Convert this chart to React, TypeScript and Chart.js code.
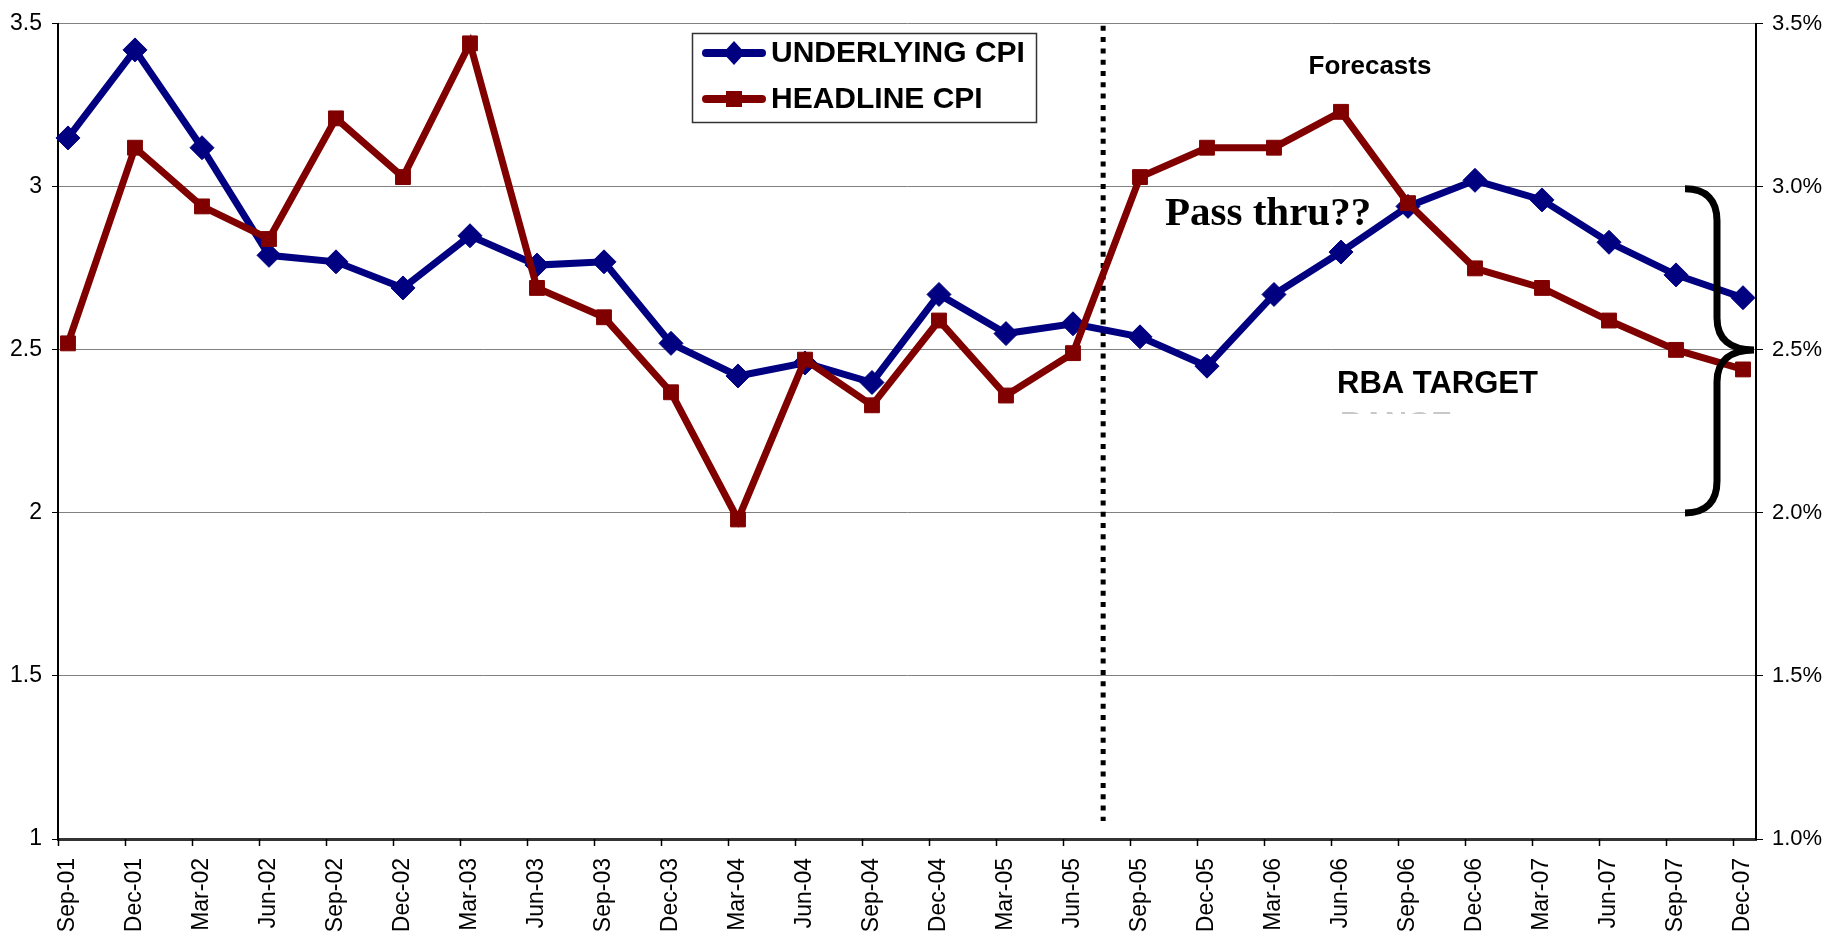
import React, { useEffect, useRef } from "react";
import { Chart, registerables } from "chart.js";

Chart.register(...registerables);

const categories = [
  "Sep-01", "Dec-01", "Mar-02", "Jun-02", "Sep-02", "Dec-02", "Mar-03", "Jun-03", "Sep-03",
  "Dec-03", "Mar-04", "Jun-04", "Sep-04", "Dec-04", "Mar-05", "Jun-05", "Sep-05", "Dec-05",
  "Mar-06", "Jun-06", "Sep-06", "Dec-06", "Mar-07", "Jun-07", "Sep-07", "Dec-07",
];

const underlyingCPI = [
  3.15, 3.42, 3.12, 2.79, 2.77, 2.69, 2.85, 2.76, 2.77, 2.52, 2.42, 2.46, 2.40,
  2.67, 2.55, 2.58, 2.54, 2.45, 2.67, 2.80, 2.94, 3.02, 2.96, 2.83, 2.73, 2.66,
];

const headlineCPI = [
  2.52, 3.12, 2.94, 2.84, 3.21, 3.03, 3.44, 2.69, 2.60, 2.37, 1.98, 2.47, 2.33,
  2.59, 2.36, 2.49, 3.03, 3.12, 3.12, 3.23, 2.95, 2.75, 2.69, 2.59, 2.50, 2.44,
];

const seriesNames = ["UNDERLYING CPI", "HEADLINE CPI"];
const yMin = 1;
const yMax = 3.5;
const yStep = 0.5;
const forecastBoundary = 15.45; // between Jun-05 and Sep-05
const targetRange = [2, 2.5, 3];
const annotationTexts = { forecasts: "Forecasts", passThru: "Pass thru??", target: "RBA TARGET", targetSub: "RANGE" };

const SANS = "'Liberation Sans', Arial, sans-serif";
const SERIF = "'Liberation Serif', 'Times New Roman', serif";

export default function App() {
  const canvasRef = useRef<HTMLCanvasElement | null>(null);

  useEffect(() => {
    const canvas = canvasRef.current;
    if (!canvas) return;

    const annotations = {
      id: "annotations",
      beforeDatasetsDraw(chart: any) {
        const { ctx, chartArea, scales } = chart;
        const x = scales.x.getPixelForValue(forecastBoundary);
        ctx.save();
        ctx.strokeStyle = "#000";
        ctx.lineWidth = 5;
        ctx.setLineDash([5, 6.3]);
        ctx.beginPath();
        ctx.moveTo(x, chartArea.top + 2);
        ctx.lineTo(x, chartArea.bottom - 18);
        ctx.stroke();
        ctx.restore();
      },
      afterDatasetsDraw(chart: any) {
        const { ctx, chartArea, scales } = chart;
        const xs = scales.x;
        const ys = scales.y;
        ctx.save();

        // x-axis tick marks (between-category style)
        const tickShift = 10 / ((chartArea.right - chartArea.left) / (xs.max - xs.min));
        ctx.strokeStyle = "#000";
        ctx.lineWidth = 1.5;
        ctx.beginPath();
        categories.forEach((_, i) => {
          const px = Math.round(xs.getPixelForValue(i - tickShift)) + 0.5;
          ctx.moveTo(px, chartArea.bottom);
          ctx.lineTo(px, chartArea.bottom + 7);
        });
        ctx.stroke();

        // brace for target range
        const yT = ys.getPixelForValue(targetRange[2]) + 2;
        const yM = ys.getPixelForValue(targetRange[1]);
        const yB = ys.getPixelForValue(targetRange[0]);
        const xTip = chartArea.right - 2;
        const xV = chartArea.right - 39;
        const xEnd = chartArea.right - 71;
        ctx.strokeStyle = "#000";
        ctx.lineWidth = 7;
        ctx.lineCap = "butt";
        ctx.beginPath();
        ctx.moveTo(xEnd, yT);
        ctx.bezierCurveTo(xEnd + 22, yT, xV, yT + 12, xV, yT + 32);
        ctx.lineTo(xV, yM - 32);
        ctx.bezierCurveTo(xV, yM - 10, xV + 14, yM, xTip, yM);
        ctx.moveTo(xTip, yM);
        ctx.bezierCurveTo(xV + 14, yM, xV, yM + 10, xV, yM + 32);
        ctx.lineTo(xV, yB - 32);
        ctx.bezierCurveTo(xV, yB - 12, xEnd + 22, yB, xEnd, yB);
        ctx.stroke();

        // texts
        ctx.fillStyle = "#000";
        ctx.textBaseline = "alphabetic";
        ctx.font = `bold 26px ${SANS}`;
        ctx.textAlign = "center";
        ctx.fillText(annotationTexts.forecasts, 1370, 74);

        ctx.textAlign = "left";
        ctx.font = `bold 41px ${SERIF}`;
        ctx.fillText(annotationTexts.passThru, 1165, 225);

        ctx.font = `bold 31px ${SANS}`;
        ctx.fillText(annotationTexts.target, 1337, 393);

        // clipped remnant of the second line
        ctx.save();
        ctx.beginPath();
        ctx.rect(1330, 411, 240, 3);
        ctx.clip();
        ctx.fillStyle = "#c8c8c8";
        ctx.font = `bold 31px ${SANS}`;
        ctx.fillText(annotationTexts.targetSub, 1340, 434);
        ctx.restore();

        // legend box
        const lx = 692, ly = 33, lw = 344, lh = 89;
        ctx.fillStyle = "#fff";
        ctx.fillRect(lx, ly, lw, lh);
        ctx.strokeStyle = "#333";
        ctx.lineWidth = 1.5;
        ctx.strokeRect(lx + 0.5, ly + 0.5, lw, lh);
        const rows = [53, 99];
        chart.data.datasets.forEach((ds: any, i: number) => {
          const cy = rows[i];
          ctx.strokeStyle = ds.borderColor;
          ctx.lineWidth = 8;
          ctx.lineCap = "round";
          ctx.beginPath();
          ctx.moveTo(706, cy);
          ctx.lineTo(762, cy);
          ctx.stroke();
          ctx.fillStyle = ds.borderColor;
          ctx.beginPath();
          if (ds.pointStyle === "rectRot") {
            ctx.moveTo(734, cy - 12);
            ctx.lineTo(745, cy);
            ctx.lineTo(734, cy + 12);
            ctx.lineTo(723, cy);
            ctx.closePath();
          } else {
            ctx.rect(726, cy - 8, 16, 16);
          }
          ctx.fill();
          ctx.fillStyle = "#000";
          ctx.font = `bold 30px ${SANS}`;
          ctx.textAlign = "left";
          ctx.textBaseline = "middle";
          ctx.fillText(ds.label, 771, cy + 1);
        });

        ctx.restore();
      },
    };

    const chart = new Chart(canvas, {
      type: "line",
      data: {
        datasets: [
          {
            label: seriesNames[0],
            data: underlyingCPI.map((v, i) => ({ x: i, y: v })),
            borderColor: "#000080",
            backgroundColor: "#000080",
            borderWidth: 7,
            pointStyle: "rectRot",
            pointRadius: 12,
            pointBorderWidth: 1,
            tension: 0,
            clip: false as any,
            order: 1,
            yAxisID: "y",
          },
          {
            label: seriesNames[1],
            data: headlineCPI.map((v, i) => ({ x: i, y: v })),
            borderColor: "#800000",
            backgroundColor: "#800000",
            borderWidth: 7,
            pointStyle: "rect",
            pointRadius: 10.5,
            pointBorderWidth: 1,
            tension: 0,
            clip: false as any,
            order: 0,
            yAxisID: "y",
          },
        ],
      },
      options: {
        animation: false,
        responsive: false,
        layout: { padding: { top: 19, left: 0, right: 0, bottom: 0 } },
        plugins: {
          legend: { display: false },
          tooltip: { enabled: false },
        },
        scales: {
          x: {
            type: "linear",
            min: -0.149,
            max: 25.194,
            afterBuildTicks: (scale: any) => {
              scale.ticks = categories.map((_, i) => ({ value: i }));
            },
            afterFit: (scale: any) => {
              scale.height = 101;
            },
            ticks: {
              autoSkip: false,
              minRotation: 90,
              maxRotation: 90,
              padding: 19,
              color: "#000",
              font: { family: SANS, size: 23 },
              callback: (v: any) => categories[Math.round(Number(v))] ?? "",
            },
            grid: { display: false, drawTicks: false },
            border: { display: true, color: "#333", width: 3 },
          },
          y: {
            type: "linear",
            position: "left",
            min: yMin,
            max: yMax,
            afterFit: (scale: any) => {
              scale.width = 58;
            },
            ticks: {
              stepSize: yStep,
              padding: 10,
              color: "#000",
              font: { family: SANS, size: 23 },
              callback: (v: any) => String(v),
            },
            grid: { color: "#808080", lineWidth: 1, tickLength: 6, tickColor: "#000" },
            border: { display: true, color: "#000", width: 2 },
          },
          y2: {
            type: "linear",
            position: "right",
            min: yMin,
            max: yMax,
            afterFit: (scale: any) => {
              scale.width = 83;
            },
            ticks: {
              stepSize: yStep,
              padding: 9,
              color: "#000",
              font: { family: SANS, size: 22 },
              callback: (v: any) => Number(v).toFixed(1) + "%",
            },
            grid: { drawOnChartArea: false, tickLength: 7, color: "#000" },
            border: { display: true, color: "#000", width: 2 },
          },
        },
      },
      plugins: [annotations],
    } as any);

    return () => chart.destroy();
  }, []);

  return (
    <div style={{ position: "absolute", left: 0, top: 0, width: 1839, height: 940, background: "#fff" }}>
      <canvas ref={canvasRef} width={1839} height={940} style={{ display: "block" }} />
    </div>
  );
}
